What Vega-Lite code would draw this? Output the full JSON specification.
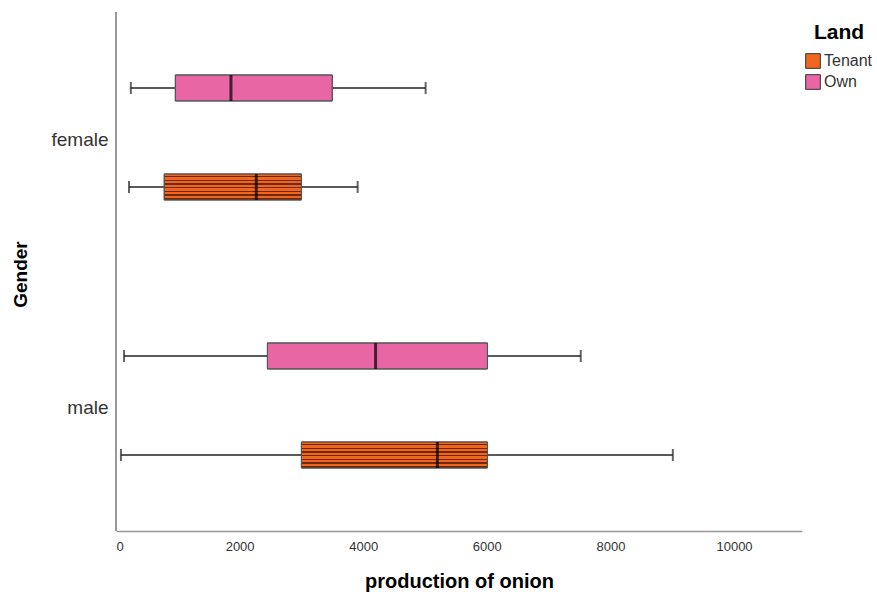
{
  "$schema": "https://vega.github.io/schema/vega-lite/v6.json",
  "autosize": {"type": "none"},
  "padding": {"left": 116, "top": 12, "right": 75, "bottom": 65},
  "width": 686,
  "height": 519,
  "background": "white",
  "config": {
    "font": "Liberation Sans",
    "view": {"stroke": null}
  },
  "data": {
    "values": [
      {"Gender": "female", "Land": "Own", "min": 240, "q1": 960, "median": 1860, "q3": 3500, "max": 5010},
      {"Gender": "female", "Land": "Tenant", "min": 210, "q1": 780, "median": 2270, "q3": 3000, "max": 3910},
      {"Gender": "male", "Land": "Own", "min": 130, "q1": 2450, "median": 4200, "q3": 6010, "max": 7520},
      {"Gender": "male", "Land": "Tenant", "min": 80, "q1": 3000, "median": 5200, "q3": 6010, "max": 9010}
    ]
  },
  "encoding": {
    "y": {
      "field": "Gender", "type": "nominal",
      "scale": {"domain": ["female", "male"], "paddingInner": 0, "paddingOuter": 0, "range": [-6, 530]},
      "axis": {
        "title": "Gender", "titleFontSize": 19, "titleFontWeight": "bold", "titleColor": "#000",
        "titlePadding": 20,
        "labelFontSize": 19, "labelColor": "#333", "labelPadding": 8, "ticks": false,
        "domain": false
      }
    },
    "yOffset": {
      "field": "Land", "type": "nominal",
      "scale": {"domain": ["Own", "Tenant"], "paddingInner": 0, "paddingOuter": 0.3535, "align": 0.464}
    }
  },
  "layer": [
    {
      "mark": {"type": "rule", "color": "#999", "strokeWidth": 1.5},
      "encoding": {
        "x": {"datum": 0, "type": "quantitative"},
        "y": null,
        "yOffset": null
      }
    },
    {
      "mark": {"type": "rule", "color": "#222", "strokeWidth": 1.6},
      "encoding": {
        "x": {
          "field": "min", "type": "quantitative",
          "scale": {"domain": [0, 11100], "nice": false, "zero": false},
          "axis": {
            "title": "production of onion", "titleFontSize": 20, "titleFontWeight": "bold", "titleColor": "#000", "titlePadding": 18,
            "values": [0, 2000, 4000, 6000, 8000, 10000], "format": "d",
            "labelFontSize": 13, "labelColor": "#333", "labelPadding": 9, "ticks": false, "grid": false,
            "domainColor": "#999", "domainWidth": 1.5
          }
        },
        "x2": {"field": "max"}
      }
    },
    {
      "mark": {"type": "tick", "color": "#222", "thickness": 2, "size": 12},
      "encoding": {"x": {"field": "min", "type": "quantitative"}}
    },
    {
      "mark": {"type": "tick", "color": "#222", "thickness": 2, "size": 12},
      "encoding": {"x": {"field": "max", "type": "quantitative"}}
    },
    {
      "mark": {"type": "bar", "height": 26, "stroke": "#555", "strokeWidth": 1},
      "encoding": {
        "x": {"field": "q1", "type": "quantitative"},
        "x2": {"field": "q3"},
        "color": {
          "field": "Land", "type": "nominal",
          "scale": {"domain": ["Tenant", "Own"], "range": ["#f0661f", "#e866a3"]},
          "legend": {
            "title": "Land", "orient": "none", "legendX": 689, "legendY": 10,
            "titleFontSize": 21, "titleFontWeight": "bold", "titleColor": "#000", "titlePadding": 10, "titleAnchor": "middle",
            "labelFontSize": 16, "labelColor": "#333", "labelOffset": 3,
            "symbolType": "square", "symbolSize": 215, "symbolStrokeColor": "#333", "symbolStrokeWidth": 1,
            "rowPadding": 1
          }
        }
      }
    },
    {
      "transform": [{"filter": "datum.Land === 'Tenant'"}],
      "mark": {
        "type": "bar", "height": 26, "strokeWidth": 0,
        "fill": {
          "gradient": "linear", "x1": 0, "y1": 0, "x2": 0, "y2": 1,
          "stops": [
            {"offset": 0, "color": "rgba(90,30,5,0)"},
            {"offset": 0.07, "color": "rgba(90,30,5,0)"},
            {"offset": 0.07, "color": "rgba(90,30,5,0.85)"},
            {"offset": 0.125, "color": "rgba(90,30,5,0.85)"},
            {"offset": 0.125, "color": "rgba(90,30,5,0)"},
            {"offset": 0.2129, "color": "rgba(90,30,5,0)"},
            {"offset": 0.2129, "color": "rgba(90,30,5,0.85)"},
            {"offset": 0.2679, "color": "rgba(90,30,5,0.85)"},
            {"offset": 0.2679, "color": "rgba(90,30,5,0)"},
            {"offset": 0.3557, "color": "rgba(90,30,5,0)"},
            {"offset": 0.3557, "color": "rgba(90,30,5,0.85)"},
            {"offset": 0.4107, "color": "rgba(90,30,5,0.85)"},
            {"offset": 0.4107, "color": "rgba(90,30,5,0)"},
            {"offset": 0.4986, "color": "rgba(90,30,5,0)"},
            {"offset": 0.4986, "color": "rgba(90,30,5,0.85)"},
            {"offset": 0.5536, "color": "rgba(90,30,5,0.85)"},
            {"offset": 0.5536, "color": "rgba(90,30,5,0)"},
            {"offset": 0.6414, "color": "rgba(90,30,5,0)"},
            {"offset": 0.6414, "color": "rgba(90,30,5,0.85)"},
            {"offset": 0.6964, "color": "rgba(90,30,5,0.85)"},
            {"offset": 0.6964, "color": "rgba(90,30,5,0)"},
            {"offset": 0.7843, "color": "rgba(90,30,5,0)"},
            {"offset": 0.7843, "color": "rgba(90,30,5,0.85)"},
            {"offset": 0.8393, "color": "rgba(90,30,5,0.85)"},
            {"offset": 0.8393, "color": "rgba(90,30,5,0)"},
            {"offset": 0.9271, "color": "rgba(90,30,5,0)"},
            {"offset": 0.9271, "color": "rgba(90,30,5,0.85)"},
            {"offset": 0.9821, "color": "rgba(90,30,5,0.85)"},
            {"offset": 0.9821, "color": "rgba(90,30,5,0)"},
            {"offset": 1, "color": "rgba(90,30,5,0)"}
          ]
        }
      },
      "encoding": {
        "x": {"field": "q1", "type": "quantitative"},
        "x2": {"field": "q3"}
      }
    },
    {
      "mark": {"type": "bar", "height": 26, "fill": null, "stroke": "#555", "strokeWidth": 1},
      "encoding": {
        "x": {"field": "q1", "type": "quantitative"},
        "x2": {"field": "q3"}
      }
    },
    {
      "mark": {"type": "tick", "color": "#000", "thickness": 3, "size": 26},
      "encoding": {"x": {"field": "median", "type": "quantitative"}}
    }
  ]
}
